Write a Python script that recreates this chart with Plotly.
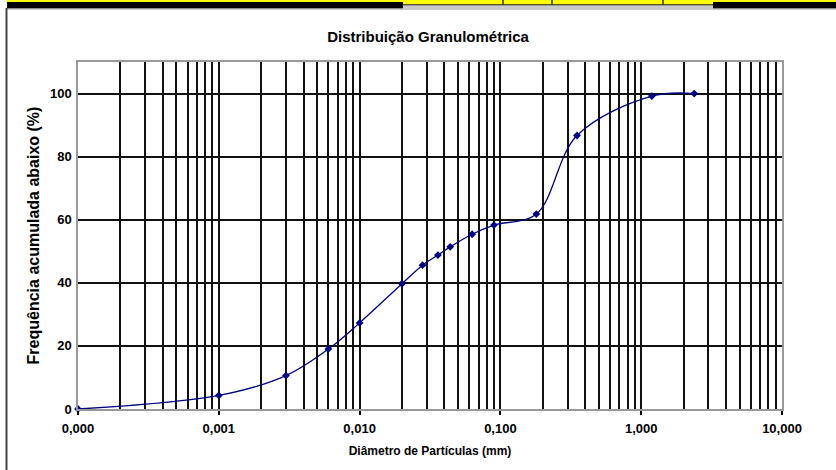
import plotly.graph_objects as go

# ---- data ----
diametro_mm = [0.0001, 0.001, 0.003, 0.006, 0.010, 0.020, 0.028, 0.036, 0.044,
               0.063, 0.090, 0.180, 0.350, 1.19, 2.38]
freq_acum = [0.0, 4.3, 10.6, 19.0, 27.3, 39.7, 45.6, 48.8, 51.4,
             55.4, 58.3, 61.8, 86.7, 99.2, 100.0]

x_tick_vals = [0.0001, 0.001, 0.01, 0.1, 1, 10]
x_tick_text = ["0,000", "0,001", "0,010", "0,100", "1,000", "10,000"]
y_tick_vals = [0, 20, 40, 60, 80, 100]

minor_vals = [m * 10 ** e for e in range(-4, 1) for m in range(2, 10)]

W, H = 836, 470
L, R, T, B = 78, 782, 62, 409


def px(X):
    return (X - L) / (R - L)


def py(Y):
    return (B - Y) / (B - T)


FONT = "Liberation Sans"

fig = go.Figure()
fig.add_trace(go.Scatter(
    x=diametro_mm, y=freq_acum, mode="lines+markers",
    line=dict(color="#000080", width=1.3, shape="spline", smoothing=1.0),
    marker=dict(symbol="diamond", size=6, color="#000080"),
    showlegend=False, cliponaxis=False,
))

fig.update_layout(
    width=W, height=H,
    margin=dict(l=L, r=W - R, t=T, b=H - B),
    paper_bgcolor="white", plot_bgcolor="white",
    font=dict(family=FONT, color="black", size=11),
    title=dict(text="<b>Distribuição Granulométrica</b>",
               x=px(428), xref="paper", y=1 - 37 / H, yref="container",
               xanchor="center", yanchor="middle",
               font=dict(family=FONT, size=15, color="black")),
    xaxis=dict(
        type="log", range=[-4, 1],
        tickmode="array", tickvals=x_tick_vals,
        ticktext=["<b>%s</b>" % t for t in x_tick_text],
        tickfont=dict(size=13, family=FONT),
        ticks="outside", ticklen=4, tickcolor="black", tickwidth=1.5,
        ticklabelstandoff=3,
        showgrid=True, gridcolor="#111111", gridwidth=2,
        minor=dict(tickmode="array", tickvals=minor_vals, showgrid=True,
                   gridcolor="#111111", gridwidth=2, ticks=""),
        showline=True, linecolor="#999999", linewidth=1.5, mirror=True,
        title=dict(text="<b>Diâmetro de Partículas (mm)</b>",
                   font=dict(size=12, family=FONT), standoff=11),
        zeroline=False,
    ),
    yaxis=dict(
        range=[0, 110], tickmode="array", tickvals=y_tick_vals,
        ticktext=["<b>%d</b>" % v for v in y_tick_vals],
        tickfont=dict(size=13, family=FONT),
        ticks="", ticklabelstandoff=2,
        showgrid=True, gridcolor="#111111", gridwidth=2,
        showline=True, linecolor="#999999", linewidth=1.5, mirror=True,
        title=dict(text="<b>Frequência acumulada abaixo (%)</b>",
                   font=dict(size=16, family=FONT), standoff=6),
        zeroline=False,
    ),
)

# ---- frame decorations around the chart (spreadsheet border) ----
shapes = []


def rect(X0, Y0, X1, Y1, color):
    shapes.append(dict(type="rect", xref="paper", yref="paper",
                       x0=px(X0), x1=px(X1), y0=py(Y1), y1=py(Y0),
                       fillcolor=color, line=dict(width=0), layer="above"))


rect(7, 0, W, 2, "#ffff00")
rect(7, 2, W, 8.5, "#000000")
rect(7, 8.5, W, 9.5, "#9a9a9a")
rect(403, 0, 713, 4.5, "#ffff00")
rect(403, 4.5, 713, 5.3, "#333333")
rect(403, 5.3, 713, 7.3, "#c8c8c8")
rect(403, 7.3, 713, 8.5, "#ffffff")
for xd in (503, 552, 663):
    rect(xd - 0.6, 0, xd + 0.6, 4.5, "#000000")
rect(5.5, 8, 7.5, H, "#444444")
fig.update_layout(shapes=shapes)

fig.write_html("out.html")
